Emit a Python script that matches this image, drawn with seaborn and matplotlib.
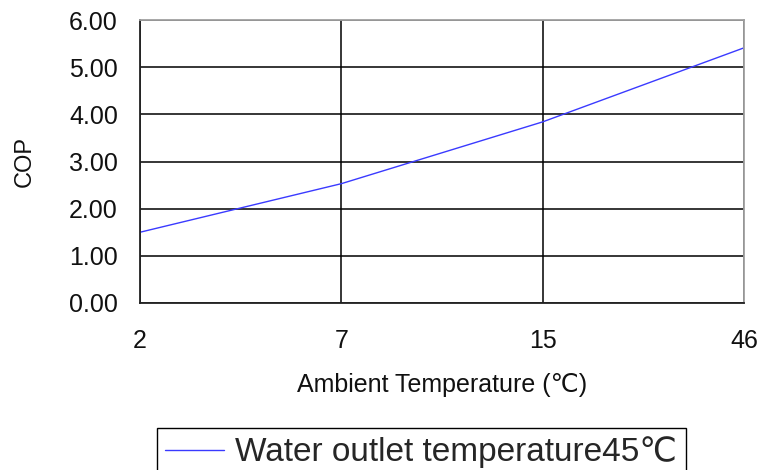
import matplotlib
matplotlib.use("Agg")
import matplotlib.pyplot as plt
import seaborn as sns
import pandas as pd
from matplotlib.ticker import FormatStrFormatter

# =========================================================
# DATA
# =========================================================

ambient_temps = ["2", "7", "15", "46"]
cop_values = [1.50, 2.53, 3.84, 5.41]
series_name = "Water outlet temperature45\u2103"

df = pd.DataFrame({
    "Ambient": ambient_temps,
    "COP": cop_values,
})

# =========================================================
# STYLE
# =========================================================

sns.set_style("white")
plt.rcParams["font.family"] = ["Liberation Sans", "DejaVu Sans"]

fig = plt.figure(figsize=(7.72, 4.70), dpi=100)
ax = fig.add_axes([140 / 772, 1 - 303 / 470, 604 / 772, 283 / 470])

sns.lineplot(
    data=df,
    x="Ambient",
    y="COP",
    color="#3a3aff",
    linewidth=1.0,
    label=series_name,
    ax=ax,
    sort=False,
)

ax.set_xlim(0, len(ambient_temps) - 1)
ax.set_ylim(0, 6)
ax.set_yticks(range(0, 7))
ax.yaxis.set_major_formatter(FormatStrFormatter("%.2f"))

ax.grid(True, color="black", linewidth=1.1)
ax.set_axisbelow(True)

for side in ["left", "bottom"]:
    ax.spines[side].set_color("#222222")
    ax.spines[side].set_linewidth(1.3)
for side in ["top", "right"]:
    ax.spines[side].set_color("#a0a0a0")
    ax.spines[side].set_linewidth(1.3)

ax.tick_params(axis="x", length=0, pad=19, labelsize=18, colors="#111111")
ax.tick_params(axis="y", length=0, pad=16, labelsize=18, colors="#111111")

ax.set_xlabel("Ambient Temperature (\u2103)", fontsize=18, labelpad=14, color="#111111")
ax.set_ylabel("COP", fontsize=17, labelpad=24, color="#111111")

# legend sits below the axes, partly cut off like the original
ax.get_legend().remove()
fig.legend(
    loc="upper left",
    bbox_to_anchor=(157 / 772, 1 - 428 / 470),
    fontsize=24,
    frameon=True,
    fancybox=False,
    edgecolor="black",
    framealpha=1,
    handlelength=1.75,
    handletextpad=0.35,
    borderpad=0.25,
    borderaxespad=0,
)
fig.legends[0].get_frame().set_linewidth(1.0)

fig.savefig("out.png", dpi=100)
